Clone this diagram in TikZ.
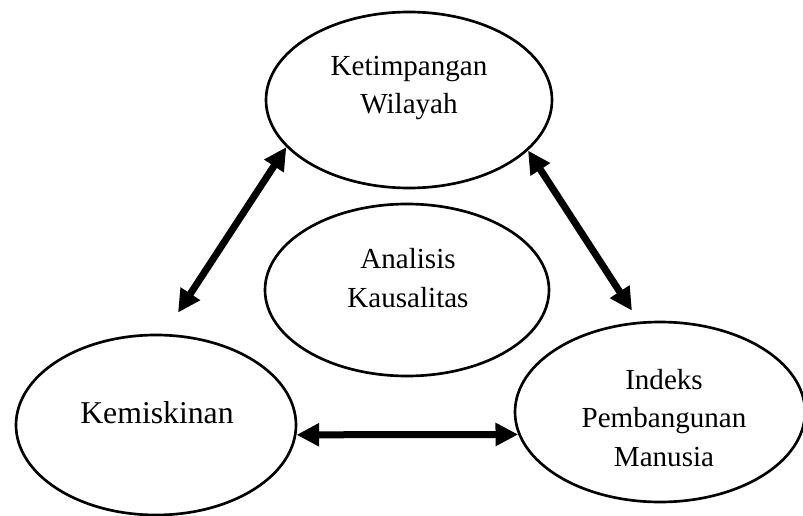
\documentclass[tikz,border=0pt]{standalone}
\usepackage{fontspec}
\setmainfont{Liberation Serif}
\usepackage{tikz}
\usetikzlibrary{
  arrows.meta,
  shapes.geometric,
  positioning,
  calc
}

\tikzset{
  bubble/.style={draw=black, line width=2pt, ellipse, inner sep=0pt},
  bubbletext/.style={align=center, inner sep=0pt},
  relation/.style={line width=5.25pt, {Triangle[length=17pt,width=16.5pt]}-{Triangle[length=17pt,width=16.5pt]}}
}

\begin{document}
\begin{tikzpicture}[x=0.75pt, y=0.75pt, font=\fontsize{21.8pt}{28.9pt}\selectfont]
  \useasboundingbox (0,0) rectangle (803,515);
  \foreach \x/\y/\w/\h/\nm in {409/415/286/176/kw, 407/225/284/172/ak, 156/90/280/180/km, 660/103/290/180/ipm}{
    \node[bubble, minimum width=\w*0.75pt, minimum height=\h*0.75pt] (\nm) at (\x,\y) {};
  }
  \node[bubbletext] (kw-txt) at (409,427) {Ketimpangan\\Wilayah};
  \node[bubbletext] (ak-txt) at (408,237) {Analisis\\Kausalitas};
  \node[bubbletext, font=\fontsize{23.8pt}{30pt}\selectfont] (km-txt) at (157,102) {Kemiskinan};
  \node[bubbletext] (ipm-txt) at (664,97) {Indeks\\Pembangunan\\Manusia};
  \coordinate (km-tip) at ($(km.north)+(22,21)$);
  \coordinate (ipm-tip) at ($(ipm.north)+(-28,10)$);
  \draw[relation] (kw.201) -- (km-tip);
  \draw[relation] (kw.337) -- (ipm-tip);
  \draw[relation] (km.356) -- (ipm.189);
\end{tikzpicture}
\end{document}
